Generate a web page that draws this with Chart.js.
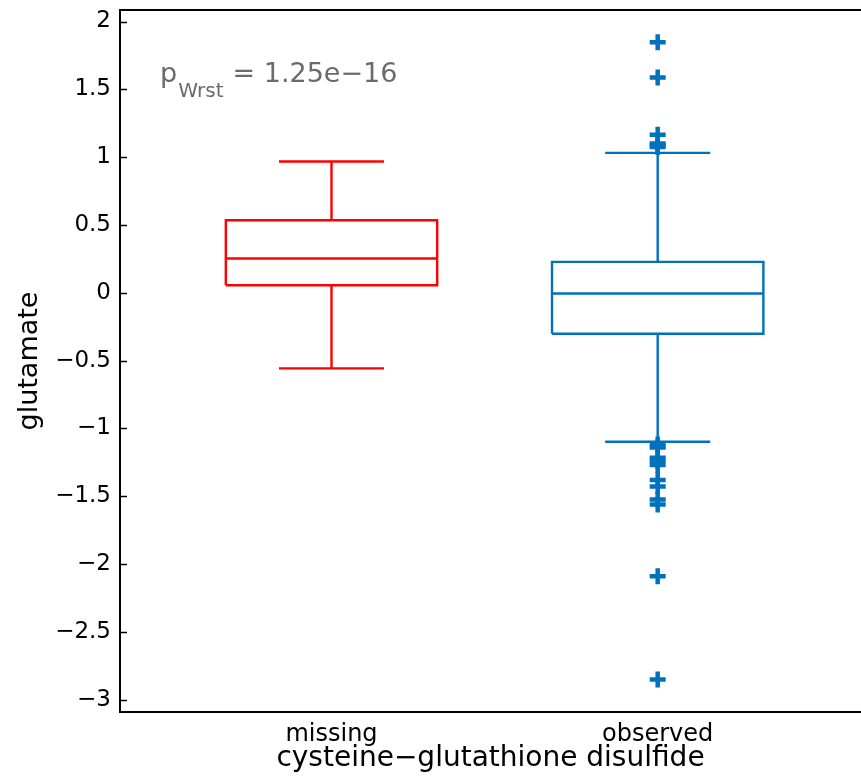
<!DOCTYPE html>
<html>
<head>
<meta charset="utf-8">
<script src="https://cdn.jsdelivr.net/npm/chart.js@4.4.1/dist/chart.umd.min.js"></script>
<style>
  html, body { margin: 0; padding: 0; overflow: hidden; background: #ffffff; }
  #wrap { width: 861px; height: 782px; }
</style>
</head>
<body>
<div id="wrap"><canvas id="c" width="861" height="782"></canvas></div>
<script>
// ---- data ----
const categories = ['missing', 'observed'];
const q1 = [0.056, -0.302];
const median = [0.253, -0.005];
const q3 = [0.535, 0.228];
const whiskerLow = [-0.557, -1.098];
const whiskerHigh = [0.968, 1.032];
const outliersMissing = [];
const outliersObserved = [1.848, 1.588, 1.166, 1.100, 1.088, 1.075,
  -1.118, -1.140, -1.215, -1.240, -1.270, -1.380, -1.428, -1.524, -1.560, -2.089, -2.851];
const yTicks = [-3, -2.5, -2, -1.5, -1, -0.5, 0, 0.5, 1, 1.5, 2];
const xTitle = 'cysteine\u2212glutathione disulfide';
const yTitle = 'glutamate';
const pMain = 'p';
const pSub = 'Wrst';
const pValue = '= 1.25e\u221216';

// ---- styles ----
const groupColors = ['#FF0000', '#0072BD'];
const BOX_HALF = 0.324;
const CAP_HALF = 0.161;
const FONT = "'DejaVu Sans', sans-serif";

function boxSegments(i) {
  const x = i + 1;
  const gap = { x: x, y: null };
  return [
    { x: x - BOX_HALF, y: q1[i] }, { x: x + BOX_HALF, y: q1[i] },
    { x: x + BOX_HALF, y: q3[i] }, { x: x - BOX_HALF, y: q3[i] },
    { x: x - BOX_HALF, y: q1[i] }, gap,
    { x: x - BOX_HALF, y: median[i] }, { x: x + BOX_HALF, y: median[i] }, gap,
    { x: x, y: q3[i] }, { x: x, y: whiskerHigh[i] }, gap,
    { x: x - CAP_HALF, y: whiskerHigh[i] }, { x: x + CAP_HALF, y: whiskerHigh[i] }, gap,
    { x: x, y: q1[i] }, { x: x, y: whiskerLow[i] }, gap,
    { x: x - CAP_HALF, y: whiskerLow[i] }, { x: x + CAP_HALF, y: whiskerLow[i] }
  ];
}

const outlierSets = [outliersMissing, outliersObserved];
const datasets = [];
categories.forEach((c, i) => {
  datasets.push({
    label: c + ' outliers',
    data: outlierSets[i].map(v => ({ x: i + 1, y: v })),
    showLine: false,
    pointStyle: 'cross',
    pointRadius: 8,
    pointBorderWidth: 4.5,
    pointBorderColor: groupColors[i],
    pointBackgroundColor: groupColors[i],
    order: 1
  });
  datasets.push({
    label: c,
    data: boxSegments(i),
    showLine: true,
    spanGaps: false,
    borderColor: groupColors[i],
    borderWidth: 2.4,
    pointRadius: 0,
    fill: false,
    tension: 0,
    borderJoinStyle: 'miter',
    borderCapStyle: 'butt',
    order: 2
  });
});

const framePlugin = {
  id: 'frame',
  afterDraw(chart) {
    const { ctx, chartArea } = chart;
    const ys = chart.scales.y;
    ctx.save();
    // top border
    ctx.strokeStyle = '#000';
    ctx.lineWidth = 2;
    ctx.beginPath();
    ctx.moveTo(chartArea.left - 1, chartArea.top);
    ctx.lineTo(chartArea.right, chartArea.top);
    ctx.stroke();
    // inward tick marks
    ctx.lineWidth = 1.5;
    yTicks.forEach(v => {
      const py = Math.round(ys.getPixelForValue(v)) + 0.5;
      ctx.beginPath();
      ctx.moveTo(chartArea.left, py);
      ctx.lineTo(chartArea.left + 7, py);
      ctx.stroke();
    });
    // p-value annotation
    ctx.fillStyle = '#6b6b6b';
    ctx.textBaseline = 'alphabetic';
    ctx.textAlign = 'left';
    const x0 = chartArea.left + 40;
    const base = chartArea.top + 72;
    ctx.font = '27px ' + FONT;
    ctx.fillText(pMain, x0, base);
    const pw = ctx.measureText(pMain).width;
    ctx.font = '20px ' + FONT;
    ctx.fillText(pSub, x0 + pw + 1, base + 15);
    const sw = ctx.measureText(pSub).width;
    ctx.font = '27px ' + FONT;
    ctx.fillText(pValue, x0 + pw + 1 + sw + 9, base);
    ctx.restore();
  }
};

new Chart(document.getElementById('c'), {
  type: 'scatter',
  data: { datasets },
  plugins: [framePlugin],
  options: {
    responsive: false,
    animation: false,
    events: [],
    layout: { autoPadding: false, padding: { top: 10, left: 0, right: 0, bottom: 0 } },
    plugins: { legend: { display: false }, tooltip: { enabled: false } },
    scales: {
      x: {
        type: 'linear',
        min: 0.3516,
        max: 2.6233,
        afterBuildTicks(scale) { scale.ticks = categories.map((c, i) => ({ value: i + 1 })); },
        afterFit(scale) { scale.height = 70; scale.paddingLeft = 0; scale.paddingRight = 0; },
        ticks: {
          autoSkip: false,
          maxRotation: 0,
          padding: 8,
          color: '#000',
          font: { family: FONT, size: 24 },
          callback: (v) => categories[Math.round(v) - 1]
        },
        grid: { display: true, drawOnChartArea: false, drawTicks: false },
        border: { display: true, color: '#000', width: 2 },
        title: {
          display: true,
          text: xTitle,
          color: '#000',
          font: { family: FONT, size: 28 },
          padding: { top: 0, bottom: 6 }
        }
      },
      y: {
        type: 'linear',
        min: -3.09,
        max: 2.085,
        afterBuildTicks(scale) { scale.ticks = yTicks.map(v => ({ value: v })); },
        afterFit(scale) { scale.width = 120; scale.paddingTop = 0; scale.paddingBottom = 0; },
        ticks: {
          autoSkip: false,
          padding: 9,
          color: '#000',
          font: { family: FONT, size: 23 },
          callback: (v) => String(v).replace('-', '\u2212')
        },
        grid: { display: true, drawOnChartArea: false, drawTicks: false },
        border: { display: true, color: '#000', width: 2 },
        title: {
          display: true,
          text: yTitle,
          color: '#000',
          font: { family: FONT, size: 27 },
          padding: { top: 14, bottom: 0 }
        }
      }
    }
  }
});
</script>
</body>
</html>
